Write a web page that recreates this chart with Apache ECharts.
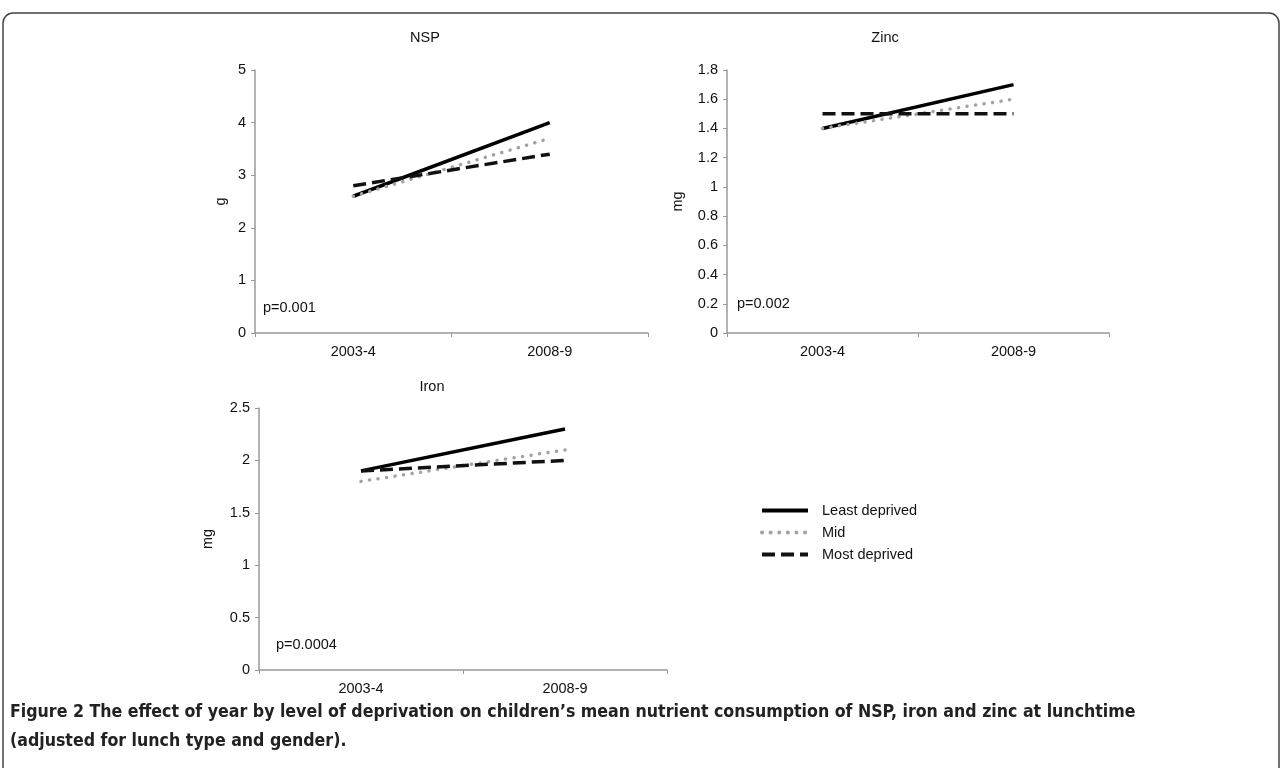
<!DOCTYPE html>
<html lang="en">
<head>
    <meta charset="UTF-8">
    <title>Figure 2</title>
    <script src="https://cdn.jsdelivr.net/npm/echarts@6/dist/echarts.min.js"></script>
    <style>
        html, body { margin: 0; padding: 0; background: #fff; }
        #main { width: 1283px; height: 768px; }
    </style>
</head>
<body>
<div id="main"></div>
<script>
    // categories and values
    var years = ['2003-4', '2008-9'];
    var seriesNames = ['Least deprived', 'Mid', 'Most deprived'];

    var nspLeast = [2.6, 4.0];
    var nspMid = [2.6, 3.7];
    var nspMost = [2.8, 3.4];

    var zincLeast = [1.4, 1.7];
    var zincMid = [1.4, 1.6];
    var zincMost = [1.5, 1.5];

    var ironLeast = [1.9, 2.3];
    var ironMid = [1.8, 2.1];
    var ironMost = [1.9, 2.0];

    var panelTitles = ['NSP', 'Zinc', 'Iron'];
    var panelUnits = ['g', 'mg', 'mg'];
    var pValues = ['p=0.001', 'p=0.002', 'p=0.0004'];

    var font = 'Liberation Sans, Arial, sans-serif';
    var axisGrey = '#999';
    var fs = 14.5;

    // line look per deprivation level
    var styles = [
        { color: '#000', width: 3.5, type: 'solid' },
        { color: '#a3a3a3', width: 3.5, type: [0.1, 8.5], cap: 'round' },
        { color: '#111', width: 3.5, type: [13, 6] }
    ];

    function xAxisFor(i) {
        return {
            type: 'category', gridIndex: i, data: years, boundaryGap: true,
            axisLine: { lineStyle: { color: axisGrey, width: 1.5 } },
            axisTick: { show: true, length: 4, lineStyle: { color: axisGrey } },
            axisLabel: { color: '#111', fontSize: fs, fontFamily: font, margin: 11 }
        };
    }
    function yAxisFor(i, max, step, gap) {
        return {
            type: 'value', gridIndex: i, min: 0, max: max, interval: step,
            name: panelUnits[i], nameLocation: 'middle', nameGap: gap, nameRotate: 90,
            nameTextStyle: { color: '#111', fontSize: fs, fontFamily: font },
            axisLine: { show: true, lineStyle: { color: axisGrey, width: 1.5 } },
            axisTick: { show: true, length: 4, lineStyle: { color: axisGrey } },
            axisLabel: { color: '#111', fontSize: fs, fontFamily: font, margin: 9 },
            splitLine: { show: false }
        };
    }
    function lineSeries(name, idx, data, k) {
        return {
            name: name, type: 'line', xAxisIndex: idx, yAxisIndex: idx, data: data,
            symbol: 'none', silent: true, animation: false,
            lineStyle: styles[k], itemStyle: { color: styles[k].color }
        };
    }

    var chart = echarts.init(document.getElementById('main'));
    var option = {
        backgroundColor: '#fff',
        animation: false,
        grid: [
            { left: 255, top: 70, width: 393, height: 263 },
            { left: 727, top: 70, width: 382, height: 263 },
            { left: 259, top: 408, width: 408, height: 262 }
        ],
        xAxis: [xAxisFor(0), xAxisFor(1), xAxisFor(2)],
        yAxis: [yAxisFor(0, 5, 1, 27), yAxisFor(1, 1.8, 0.2, 42), yAxisFor(2, 2.5, 0.5, 44)],
        legend: {
            orient: 'vertical', left: 760, top: 503, padding: 0,
            itemWidth: 46, itemHeight: 14, itemGap: 7,
            data: seriesNames,
            itemStyle: { opacity: 0 },
            lineStyle: { width: 4 },
            textStyle: { color: '#111', fontSize: fs, fontFamily: font, padding: [0, 0, 0, 9] }
        },
        series: [
            lineSeries(seriesNames[0], 0, nspLeast, 0),
            lineSeries(seriesNames[1], 0, nspMid, 1),
            lineSeries(seriesNames[2], 0, nspMost, 2),
            lineSeries(seriesNames[0], 1, zincLeast, 0),
            lineSeries(seriesNames[1], 1, zincMid, 1),
            lineSeries(seriesNames[2], 1, zincMost, 2),
            lineSeries(seriesNames[0], 2, ironLeast, 0),
            lineSeries(seriesNames[1], 2, ironMid, 1),
            lineSeries(seriesNames[2], 2, ironMost, 2)
        ],
        graphic: [
            { type: 'rect', shape: { x: 3, y: 13, width: 1276, height: 820, r: 10 },
              style: { fill: 'none', stroke: '#444', lineWidth: 1.5 }, silent: true },
            { type: 'text', x: 425, y: 38, style: { text: panelTitles[0], fill: '#111', font: fs + 'px ' + font, align: 'center', verticalAlign: 'middle' } },
            { type: 'text', x: 885, y: 38, style: { text: panelTitles[1], fill: '#111', font: fs + 'px ' + font, align: 'center', verticalAlign: 'middle' } },
            { type: 'text', x: 432, y: 387, style: { text: panelTitles[2], fill: '#111', font: fs + 'px ' + font, align: 'center', verticalAlign: 'middle' } },
            { type: 'text', x: 263, y: 308, style: { text: pValues[0], fill: '#111', font: fs + 'px ' + font, verticalAlign: 'middle' } },
            { type: 'text', x: 737, y: 304, style: { text: pValues[1], fill: '#111', font: fs + 'px ' + font, verticalAlign: 'middle' } },
            { type: 'text', x: 276, y: 645, style: { text: pValues[2], fill: '#111', font: fs + 'px ' + font, verticalAlign: 'middle' } },
            { type: 'text', x: 10, y: 712, style: {
                text: 'Figure 2 The effect of year by level of deprivation on children\u2019s mean nutrient consumption of NSP, iron and zinc at lunchtime',
                fill: '#222', font: 'bold 17.6px "DejaVu Sans Condensed", "DejaVu Sans", sans-serif', verticalAlign: 'middle' } },
            { type: 'text', x: 10, y: 741, style: {
                text: '(adjusted for lunch type and gender).',
                fill: '#222', font: 'bold 17.6px "DejaVu Sans Condensed", "DejaVu Sans", sans-serif', verticalAlign: 'middle' } }
        ]
    };
    chart.setOption(option);
</script>
</body>
</html>
